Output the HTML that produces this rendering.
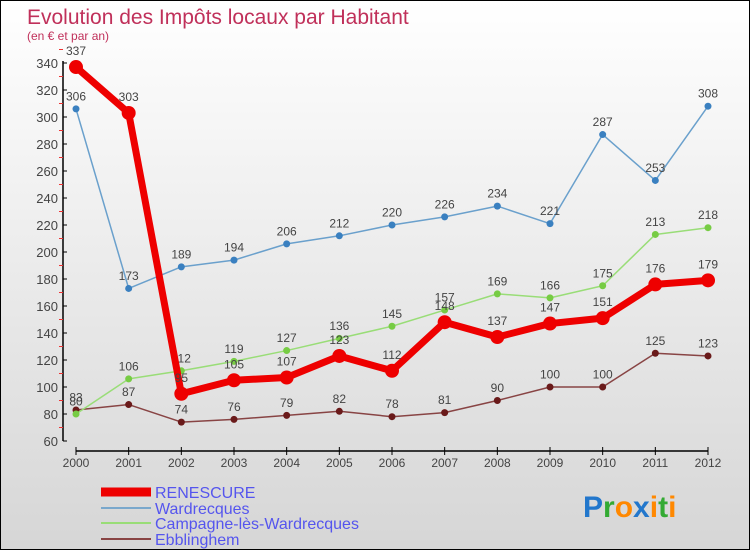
<!DOCTYPE html>
<html><head><meta charset="utf-8"><style>
body{margin:0}
#c{width:748px;height:548px;border:1px solid #000;background:linear-gradient(#fff,#d6d6d6);position:relative;font-family:"Liberation Sans",sans-serif;overflow:hidden}
svg{position:absolute;left:0;top:0}
</style></head><body>
<div id="c">
<svg id="s" width="748" height="548">
<text x="26" y="23" font-size="21" fill="#c0305a">Evolution des Impôts locaux par Habitant</text>
<text x="26" y="39" font-size="12" fill="#c0305a">(en € et par an)</text>
<g id="legend">
<line x1="100" y1="491" x2="150" y2="491" stroke="#e00" stroke-width="9"/>
<text x="154" y="497" font-size="16" fill="#5555ee">RENESCURE</text>
<line x1="100" y1="507" x2="150" y2="507" stroke="#7aa8cc" stroke-width="2"/>
<text x="154" y="513" font-size="16" fill="#5555ee">Wardrecques</text>
<line x1="100" y1="522" x2="150" y2="522" stroke="#99dd77" stroke-width="2"/>
<text x="154" y="528" font-size="16" fill="#5555ee">Campagne-lès-Wardrecques</text>
<line x1="100" y1="538" x2="150" y2="538" stroke="#884444" stroke-width="2"/>
<text x="154" y="544" font-size="16" fill="#5555ee">Ebblinghem</text>
</g>
<text x="582" y="516" font-size="30" font-weight="bold"><tspan fill="#2277cc">P</tspan><tspan fill="#33aa33">r</tspan><tspan fill="#ff8800">o</tspan><tspan fill="#2277cc">x</tspan><tspan fill="#ff8800">i</tspan><tspan fill="#33aa33">t</tspan><tspan fill="#ff8800">i</tspan></text>
</svg>
</div>
<script>
const years=[2000,2001,2002,2003,2004,2005,2006,2007,2008,2009,2010,2011,2012];
const renescure=[337,303,95,105,107,123,112,148,137,147,151,176,179];
const wardrecques=[306,173,189,194,206,212,220,226,234,221,287,253,308];
const campagne=[80,106,112,119,127,136,145,157,169,166,175,213,218];
const ebblinghem=[83,87,74,76,79,82,78,81,90,100,100,125,123];
const yTicks=[60,80,100,120,140,160,180,200,220,240,260,280,300,320,340];
const NS='http://www.w3.org/2000/svg';
const s=document.getElementById('s');
const X=i=>75+i*(632/12);
const Y=v=>440-(v-60)*(378/280);
function el(t,a,p){const e=document.createElementNS(NS,t);for(const k in a)e.setAttribute(k,a[k]);(p||s).appendChild(e);return e;}
const ax=el('g',{});


const ya=el('line',{x1:62,y1:Y(340)-2,x2:62,y2:Y(60),stroke:'#000','stroke-width':1.5},ax);


yTicks.forEach(v=>{
 el('line',{x1:62,y1:Y(v),x2:66,y2:Y(v),stroke:'#000'},ax);
 el('line',{x1:58,y1:Y(v+10),x2:62,y2:Y(v+10),stroke:'#e33'},ax);
 const t=el('text',{x:57,y:Y(v)+5,'font-size':13,fill:'#444','text-anchor':'end'},ax);
 t.textContent=v;
 
 
});
const xa=el('line',{x1:X(0),y1:450,x2:X(12),y2:450,stroke:'#000','stroke-width':1.5},ax);


years.forEach((yr,i)=>{
 el('line',{x1:X(i),y1:446,x2:X(i),y2:454,stroke:'#000'},ax);
 const t=el('text',{x:X(i),y:466,'font-size':12,fill:'#444','text-anchor':'middle'},ax);
 t.textContent=yr;
 
 
});
function series(data,name,color,dot,w,r){
 const g=el('g',{});
 
 
 const ln=el('polyline',{points:data.map((v,i)=>X(i)+','+Y(v)).join(' '),fill:'none',stroke:color,'stroke-width':w,'stroke-linejoin':'round'},g);
 
 
 data.forEach((v,i)=>{
  const c=el('circle',{cx:X(i),cy:Y(v),r:r,fill:dot},g);
  
  
  const t=el('text',{x:X(i),y:Y(v)-(r+5),'font-size':12,fill:'#444','text-anchor':'middle'},g);
  t.textContent=v;
  
  
 });
}
series(ebblinghem,'ebblinghem','#884444','#6a1a1a',1.5,3.5);
series(campagne,'campagne','#99dd77','#77cc44',1.5,3.5);
series(wardrecques,'wardrecques','#6aa0cc','#3a80c0',1.5,3.5);
series(renescure,'renescure','#ee0000','#ee0000',7,7);
</script>
</body></html>
